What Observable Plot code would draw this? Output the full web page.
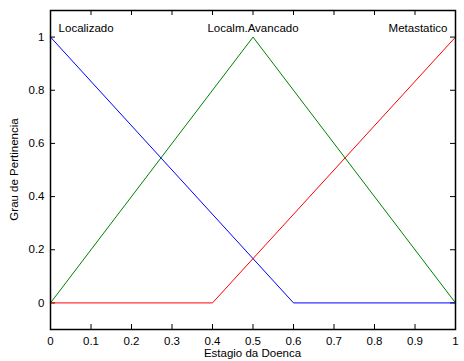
<!DOCTYPE html>
<html><head><meta charset="utf-8">
<script src="https://cdn.jsdelivr.net/npm/d3@7"></script>
<script src="https://cdn.jsdelivr.net/npm/@observablehq/plot@0.6"></script>
<style>body{margin:0;background:#fff}</style>
</head><body><div id="chart"></div>
<script>
const xLocalizado = [0, 0.6, 1];
const yLocalizado = [1, 0, 0];
const xAvancado = [0, 0.5, 1];
const yAvancado = [0, 1, 0];
const xMetastatico = [0, 0.4, 1];
const yMetastatico = [0, 0, 1];
const xTicks = [0,0.1,0.2,0.3,0.4,0.5,0.6,0.7,0.8,0.9,1];
const yTicks = [0,0.2,0.4,0.6,0.8,1];
const labels = ["Localizado","Localm.Avancado","Metastatico"];
const labelX = [0.02, 0.5, 0.98];
const labelY = [1.033, 1.033, 1.033];
const labelAnchor = ["start","middle","end"];

const series = [
  {name: labels[0], xs: xLocalizado, ys: yLocalizado, color: "#0000ff"},
  {name: labels[1], xs: xAvancado, ys: yAvancado, color: "#008000"},
  {name: labels[2], xs: xMetastatico, ys: yMetastatico, color: "#ff0000"}
];
const lineData = series.flatMap(s => s.xs.map((x,i) => ({x, y: s.ys[i], name: s.name, color: s.color})));
const labelData = labels.map((t,i) => ({t, x: labelX[i], y: labelY[i], a: labelAnchor[i]}));

const W = 464, H = 361, mL = 50, mR = 9, mT = 10, mB = 32;
const fw = W - mL - mR, fh = H - mT - mB;
const FS = 11.5;

const chart = Plot.plot({
  width: W, height: H,
  marginLeft: mL, marginRight: mR, marginTop: mT, marginBottom: mB,
  style: {fontFamily: "Liberation Sans, Arial, sans-serif", fontSize: FS + "px", color: "#000", background: "#fff"},
  x: {domain: [0, 1]},
  y: {domain: [-0.1, 1.1]},
  marks: [
    Plot.axisX({ticks: xTicks, tickSize: 0, tickPadding: 7, tickFormat: d => String(+d.toFixed(1)), fontSize: FS, label: null}),
    Plot.axisY({ticks: yTicks, tickSize: 0, tickPadding: 6, tickFormat: d => String(+d.toFixed(1)), fontSize: FS, label: null}),
    Plot.tickX(xTicks, {x: d => d, insetTop: fh - 5, stroke: "#000"}),
    Plot.tickX(xTicks, {x: d => d, insetBottom: fh - 5, stroke: "#000"}),
    Plot.tickY(yTicks, {y: d => d, insetRight: fw - 5, stroke: "#000"}),
    Plot.tickY(yTicks, {y: d => d, insetLeft: fw - 5, stroke: "#000"}),
    Plot.line(lineData, {x: "x", y: "y", z: "name", stroke: "color", strokeWidth: 1}),
    Plot.text(labelData, {x: "x", y: "y", text: "t", textAnchor: "start", filter: d => d.a === "start", fontSize: FS, fill: "#000"}),
    Plot.text(labelData, {x: "x", y: "y", text: "t", textAnchor: "middle", filter: d => d.a === "middle", fontSize: FS, fill: "#000"}),
    Plot.text(labelData, {x: "x", y: "y", text: "t", textAnchor: "end", filter: d => d.a === "end", fontSize: FS, fill: "#000"}),
    Plot.frame({stroke: "#000", strokeWidth: 1.5})
  ]
});
const svg = d3.select(chart);
svg.append("text").attr("x", mL + fw/2).attr("y", 357).attr("text-anchor", "middle")
  .attr("font-size", FS).attr("font-family", "Liberation Sans, Arial, sans-serif").text("Estagio da Doenca");
svg.append("text").attr("transform", `translate(18,${mT + fh/2}) rotate(-90)`).attr("text-anchor", "middle")
  .attr("font-size", FS).attr("font-family", "Liberation Sans, Arial, sans-serif").text("Grau de Pertinencia");
document.getElementById("chart").append(chart);
</script>
</body></html>
